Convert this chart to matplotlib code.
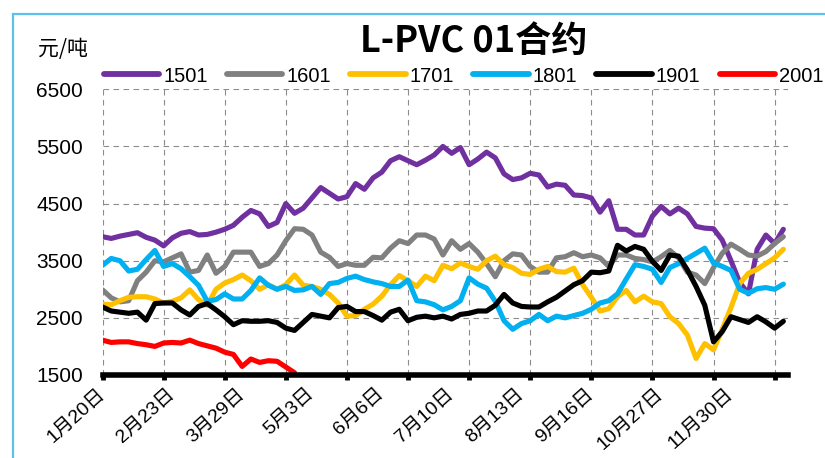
import numpy as np
import matplotlib
matplotlib.use("Agg")
import matplotlib.pyplot as plt
from matplotlib.patches import Rectangle
from matplotlib.lines import Line2D

# ---- data -------------------------------------------------------------
contracts = ["1501", "1601", "1701", "1801", "1901", "2001"]
colors = ["#7030A0", "#808080", "#FFC000", "#00B0F0", "#000000", "#FF0000"]

date_labels = ["1月20日", "2月23日", "3月29日", "5月3日", "6月6日",
               "7月10日", "8月13日", "9月16日", "10月27日", "11月30日"]
label_every = 24      # trading days between date labels
tick_every = 21       # trading days between tick marks / grid lines
n_trading_days = 236
sample_step = 3       # prices sampled every third trading day

y_ticks = [1500, 2500, 3500, 4500, 5500, 6500]

p1501 = [3920, 3890, 3930, 3960, 3990, 3910, 3860, 3760, 3900, 3980,
         4010, 3950, 3960, 4000, 4050, 4120, 4260, 4380, 4320, 4100,
         4170, 4500, 4330, 4420, 4600, 4780, 4680, 4580, 4620, 4850,
         4750, 4950, 5050, 5250, 5320, 5250, 5180, 5260, 5350, 5500,
         5380, 5480, 5180, 5280, 5400, 5300, 5020, 4920, 4950, 5030,
         5000, 4790, 4840, 4820, 4650, 4640, 4600, 4350, 4550, 4050,
         4050, 3950, 3950, 4280, 4450, 4320, 4420, 4320, 4100, 4070,
         4060, 3860, 3500, 3120, 2920, 3700, 3950, 3800, 4050]

p1601 = [2990, 2850, 2780, 2800, 3150, 3300, 3500, 3480, 3550, 3620,
         3300, 3330, 3600, 3280, 3400, 3650, 3650, 3650, 3400, 3450,
         3600, 3850, 4060, 4050, 3950, 3650, 3560, 3400, 3450, 3420,
         3420, 3560, 3550, 3720, 3850, 3800, 3950, 3950, 3880, 3600,
         3850, 3700, 3800, 3650, 3450, 3220, 3500, 3620, 3600, 3400,
         3300, 3300, 3550, 3570, 3640, 3570, 3600, 3550, 3400, 3600,
         3600, 3540, 3520, 3480, 3570, 3680, 3550, 3300, 3250, 3100,
         3380, 3630, 3790, 3700, 3600, 3580, 3660, 3800, 3920]

p1701 = [2740, 2730, 2800, 2860, 2870, 2870, 2830, 2760, 2790, 2850,
         2990, 2820, 2720, 3000, 3110, 3170, 3250, 3150, 3000, 3080,
         3000, 3080, 3250, 3070, 3050, 3000, 2910, 2760, 2530, 2540,
         2650, 2740, 2880, 3080, 3240, 3150, 3050, 3230, 3150, 3420,
         3360, 3460, 3400, 3350, 3500, 3580, 3430, 3380, 3280, 3260,
         3350, 3400, 3310, 3300, 3370, 3080, 2860, 2620, 2660, 2870,
         2980, 2780, 2880, 2780, 2750, 2520, 2400, 2200, 1790, 2050,
         1940, 2300, 2680, 3100, 3280, 3350, 3450, 3550, 3700]

p1801 = [3420, 3540, 3500, 3320, 3350, 3520, 3680, 3400, 3450, 3360,
         3220, 3070, 2790, 2820, 2920, 2830, 2830, 2980, 3200, 3070,
         3000, 3050, 2980, 2990, 3050, 2910, 3100, 3120, 3190, 3230,
         3170, 3130, 3100, 3050, 3050, 3160, 2800, 2780, 2730, 2640,
         2700, 2800, 3200, 3090, 3020, 2790, 2450, 2300, 2400, 2450,
         2560, 2450, 2530, 2500, 2540, 2580, 2650, 2760, 2800, 2920,
         3180, 3430, 3400, 3350, 3120, 3380, 3450, 3540, 3630, 3720,
         3460, 3400, 3330, 3000, 2930, 3010, 3030, 3000, 3090]

p1901 = [2690, 2620, 2600, 2580, 2600, 2460, 2750, 2760, 2760, 2640,
         2550, 2700, 2750, 2640, 2520, 2380, 2450, 2440, 2440, 2450,
         2420, 2320, 2280, 2420, 2560, 2530, 2500, 2680, 2700, 2610,
         2610, 2540, 2460, 2600, 2650, 2450, 2510, 2530, 2500, 2530,
         2480, 2560, 2580, 2620, 2620, 2720, 2910, 2760, 2700, 2690,
         2690, 2780, 2860, 2970, 3080, 3150, 3300, 3290, 3320, 3770,
         3670, 3750, 3700, 3490, 3330, 3600, 3580, 3340, 3050, 2720,
         2080, 2260, 2520, 2470, 2420, 2520, 2430, 2320, 2440]

p2001 = [2110, 2070, 2080, 2080, 2050, 2030, 2000, 2060, 2070, 2060,
         2110, 2050, 2010, 1970, 1900, 1860, 1650, 1780, 1720, 1750,
         1740, 1640, 1540]

series = [p1501, p1601, p1701, p1801, p1901, p2001]

# ---- figure -------------------------------------------------------------
W, H = 825, 458
fig = plt.figure(figsize=(W / 100, H / 100), dpi=100)
ax = fig.add_axes([102.5 / W, 83 / H, 685.5 / W, 285.7 / H])

num_font = "Liberation Sans"
cjk_font = "Noto Sans CJK SC"

for vals, c in zip(series, colors):
    days = np.arange(len(vals)) * sample_step
    ax.plot(days, vals, color=c, lw=3.7, solid_joinstyle="round",
            solid_capstyle="round", zorder=3)

ax.set_xlim(0, n_trading_days - 0.4)
ax.set_ylim(y_ticks[0], y_ticks[-1])

# tick marks + vertical grid
ax.xaxis.remove_overlapping_locs = False
ax.set_xticks(np.arange(0, n_trading_days - 4, tick_every))
ax.set_xticklabels([])
ax.tick_params(axis="x", which="major", direction="out", length=3.5,
               width=3.5, color="black")
# date labels
label_days = np.arange(len(date_labels)) * label_every
ax.set_xticks(label_days, date_labels, minor=True)
ax.tick_params(axis="x", which="minor", length=0, pad=12)
for lab in ax.get_xticklabels(minor=True):
    lab.set_rotation(42)
    lab.set_rotation_mode("anchor")
    lab.set_ha("right")
    lab.set_va("center")
    lab.set_fontsize(14)
    lab.set_family([num_font, cjk_font])

ax.set_yticks(y_ticks)
ax.set_yticklabels([str(v) for v in y_ticks])
ax.tick_params(axis="y", length=0, pad=14)
for lab in ax.get_yticklabels():
    lab.set_fontsize(15)
    lab.set_family(num_font)

ax.grid(True, which="major", color="#8c8c8c", lw=0.8,
        linestyle=(0, (5, 4)))
ax.set_axisbelow(True)

for s in ("left", "right", "top"):
    ax.spines[s].set_visible(False)
ax.spines["bottom"].set_color("black")
ax.spines["bottom"].set_linewidth(4)
ax.spines["bottom"].set_zorder(4)

# legend
handles = [Line2D([0], [0], color=c, lw=4.2, solid_capstyle="round")
           for c in colors]
fig.legend(handles, contracts, loc="center left",
           bbox_to_anchor=(104 / W, 1 - 76 / H), ncol=6, frameon=False,
           handlelength=2.75, handletextpad=0.2, columnspacing=0.95,
           borderpad=0, borderaxespad=0,
           prop={"family": num_font, "size": 14.5})

# title and unit
fig.text(474 / W, 1 - 41 / H, "L-PVC 01合约", ha="center", va="center",
         fontsize=26, fontweight="bold", family=[cjk_font])
fig.text(38 / W, 1 - 49 / H, "元/吨", ha="left", va="center",
         fontsize=15, fontweight="light", family=[cjk_font])

# outer frame
fig.patches.append(Rectangle((13 / W, -0.1), 1.2, 1 - 14 / H + 0.1,
                             transform=fig.transFigure, fill=False,
                             edgecolor="#5BC0EB", lw=1.6))

fig.savefig("out.png", dpi=100)
